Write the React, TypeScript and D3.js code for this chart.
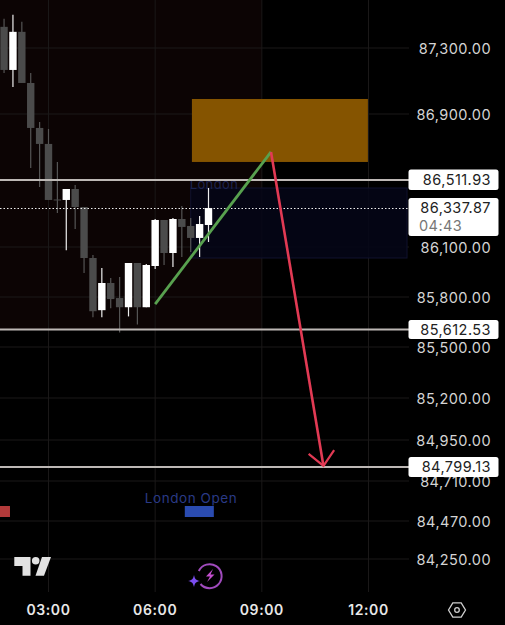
import React from "react";
import * as d3 from "d3";

const W = 505, H = 625;
const FONT = "Inter, 'Noto Sans', sans-serif";

// Price axis ticks and levels
const priceTicks = [87300, 86900, 86100, 85800, 85500, 85200, 84950, 84710, 84470, 84250];
const levelLines = [86511.93, 85612.53, 84799.13];
const lastPrice = 86337.87;
const countdown = "04:43";

// time axis in minutes since 00:00
const timeTicks = [180, 360, 540, 720];
const timeLabels = ["03:00", "06:00", "09:00", "12:00"];

// 15-minute candles
const candleStart = 105;
const candleStep = 15;
const opens = [87427, 87167, 87397, 87088, 86818, 86724, 86393, 86390, 86457, 86347, 86034, 85724, 85884, 85794, 85741, 86004, 85741, 85986, 86267, 86064, 86273, 86230, 86156, 86236];
const highs = [87476, 87500, 87458, 87148, 86853, 86812, 86618, 86457, 86481, 86347, 86052, 85974, 85914, 85920, 86004, 86004, 85998, 86273, 86267, 86279, 86353, 86279, 86291, 86463];
const lows = [87148, 87064, 87088, 86582, 86469, 86390, 86310, 86081, 86211, 85944, 85683, 85683, 85735, 85594, 85688, 85642, 85741, 85968, 85992, 85980, 86040, 86070, 86040, 86131];
const closes = [87167, 87397, 87088, 86818, 86724, 86390, 86393, 86457, 86347, 86034, 85718, 85884, 85788, 85741, 86004, 85741, 85992, 86267, 86064, 86273, 86224, 86156, 86242, 86341];

// Drawings
const orangeBoxTime = [422, 719];
const orangeBoxPrice = [86991, 86618];
const blueBoxTime = [420, 785];
const blueBoxPrice = [86463, 86034];
const greenTime = [360, 555.5];
const greenPrice = [85759, 86677];
const redTime = [555.5, 644];
const redPrice = [86677, 84805];
const arrowLeft = [619, 84872];
const arrowRight = [662, 84894];
const sessionEndTime = 540;
const londonMarkerTime = [410, 459];
const redMarkerTime = [90, 115];

const yDomain = [84250, 84470, 84710, 84799.13, 84950, 85200, 85500, 85612.53, 85800, 86100, 86337.87, 86511.93, 86900, 87300, 87600];
const yRange = [559, 521, 481, 467, 440, 398, 347, 329.5, 297, 247, 208.5, 180, 114, 48, -2];
const y = d3.scaleLinear().domain(yDomain).range(yRange);
const x = d3.scaleLinear().domain([180, 720]).range([48.5, 368.5]);

const fmt = d3.format(",.2f");
const GRID = "#1a1818";
const PLOT_R = 409;
const GRID_B = 592;
const FS = 14.5;
const LS = 0.45;

function PriceTag({ price, top, h }: { price: number; top: number; h: number }) {
  return (
    <g>
      <rect x={408.5} y={top} width={90} height={h} rx={2.5} fill="#fff" />
      <text x={491} y={top + h / 2 + 5.2} textAnchor="end" fontFamily={FONT} fontSize={FS} letterSpacing={LS} fill="#222">{fmt(price)}</text>
    </g>
  );
}

export default function App() {
  const bodyW = 7.4;
  const candles = opens.map((o, i) => ({ o, h: highs[i], l: lows[i], c: closes[i], t: candleStart + i * candleStep }));
  return (
    <svg width={W} height={H} viewBox={`0 0 ${W} ${H}`} style={{ position: "fixed", left: 0, top: 0, display: "block", background: "#000" }}>
      <rect x={0} y={0} width={W} height={H} fill="#000" />
      <rect x={0} y={0} width={x(sessionEndTime)} height={y(levelLines[1])} fill="#0c0404" />
      {timeTicks.map((t) => (
        <line key={t} x1={x(t)} x2={x(t)} y1={0} y2={GRID_B} stroke={GRID} strokeWidth={1} />
      ))}
      {priceTicks.map((p) => (
        <line key={p} x1={0} x2={PLOT_R} y1={y(p)} y2={y(p)} stroke={GRID} strokeWidth={1} />
      ))}
      <rect x={x(blueBoxTime[0])} y={y(blueBoxPrice[0])} width={x(blueBoxTime[1]) - x(blueBoxTime[0])} height={y(blueBoxPrice[1]) - y(blueBoxPrice[0])} fill="#050618" fillOpacity={0.85} stroke="#10122e" strokeWidth={1} />
      <text x={214} y={189} textAnchor="middle" fontFamily={FONT} fontSize={13} letterSpacing={0.4} fill="#1c2350">London</text>
      {candles.map((d) => {
        const up = d.c > d.o;
        const col = up ? "#fff" : "#4b4b4b";
        const top = y(Math.max(d.o, d.c));
        const bot = y(Math.min(d.o, d.c));
        return (
          <g key={d.t}>
            <line x1={x(d.t)} x2={x(d.t)} y1={y(d.h)} y2={y(d.l)} stroke={up ? "#eee" : "#555"} strokeWidth={1.2} />
            <rect x={x(d.t) - bodyW / 2} y={top} width={bodyW} height={Math.max(bot - top, 1)} fill={col} />
          </g>
        );
      })}
      <rect x={x(orangeBoxTime[0])} y={y(orangeBoxPrice[0])} width={x(orangeBoxTime[1]) - x(orangeBoxTime[0])} height={y(orangeBoxPrice[1]) - y(orangeBoxPrice[0])} fill="#855400" />
      {levelLines.map((p) => (
        <line key={p} x1={0} x2={PLOT_R} y1={y(p)} y2={y(p)} stroke="#bdb8b5" strokeWidth={2} />
      ))}
      <line x1={0} x2={PLOT_R} y1={y(lastPrice)} y2={y(lastPrice)} stroke="#eee" strokeWidth={1} strokeDasharray="1.5 2" />
      <line x1={x(greenTime[0])} y1={y(greenPrice[0])} x2={x(greenTime[1])} y2={y(greenPrice[1])} stroke="#58a14f" strokeWidth={2.8} />
      <line x1={x(redTime[0])} y1={y(redPrice[0])} x2={x(redTime[1])} y2={y(redPrice[1])} stroke="#e23a54" strokeWidth={2.6} />
      <path
        d={(d3.line()([[x(arrowLeft[0]), y(arrowLeft[1])], [x(redTime[1]), y(redPrice[1])], [x(arrowRight[0]), y(arrowRight[1])]]) as string)}
        fill="none" stroke="#e23a54" strokeWidth={2.2}
      />
      {priceTicks.map((p) => (
        <text key={p} x={491} y={y(p) + 5.5} textAnchor="end" fontFamily={FONT} fontSize={FS} letterSpacing={LS} fill="#d4d4d4">{fmt(p)}</text>
      ))}
      <PriceTag price={levelLines[0]} top={169.5} h={20.5} />
      <PriceTag price={levelLines[1]} top={320} h={19} />
      <PriceTag price={levelLines[2]} top={457} h={20} />
      <rect x={408.5} y={198} width={90} height={38} rx={2.5} fill="#fff" />
      <text x={491} y={212.5} textAnchor="end" fontFamily={FONT} fontSize={FS} letterSpacing={LS} fill="#222">{fmt(lastPrice)}</text>
      <text x={419} y={230.5} fontFamily={FONT} fontSize={FS} letterSpacing={LS} fill="#777">{countdown}</text>
      <text x={191} y={503} textAnchor="middle" fontFamily={FONT} fontSize={13.5} letterSpacing={0.55} fill="#2a3a86">London Open</text>
      <rect x={x(londonMarkerTime[0])} y={506} width={x(londonMarkerTime[1]) - x(londonMarkerTime[0])} height={11} fill="#2a4bb0" />
      <rect x={x(redMarkerTime[0])} y={506} width={x(redMarkerTime[1]) - x(redMarkerTime[0])} height={11} fill="#b23a3a" />
      {timeTicks.map((t, i) => (
        <text key={t} x={x(t)} y={615} textAnchor="middle" fontFamily={FONT} fontSize={14} fontWeight={600} letterSpacing={0.6} fill="#e8e8e8">{timeLabels[i]}</text>
      ))}
      {/* TradingView logo */}
      <g fill="#e2e2e2">
        <path d="M14.300 557H30.500V575.700H22.500V566H14.300Z" />
        <circle cx={35.7} cy={560.8} r={3.8} />
        <path d="M42 557H51L44 575.700H35.500Z" />
      </g>
      {/* spark icon */}
      <path d="M198.800 571A12 12 0 1 1 200.500 584" fill="none" stroke="#a04bbd" strokeWidth={2} />
      <path d="M213 569l-7 7.500h4l-3 5.500 7.500-7.500h-4z" fill="#c54fd0" />
      <path d="M194 575c.8 4 2 5.200 6 6-4 .8-5.200 2-6 6-.8-4-2-5.200-6-6 4-.8 5.200-2 6-6z" fill="#7b4df0" />
      {/* settings hexagon */}
      <path d="M448.500 610l4.300-7.200h8.400l4.300 7.200-4.300 7.200h-8.400z" fill="none" stroke="#cfcfcf" strokeWidth={1.3} />
      <circle cx={457} cy={610} r={2.300} fill="none" stroke="#cfcfcf" strokeWidth={1.3} />
    </svg>
  );
}
